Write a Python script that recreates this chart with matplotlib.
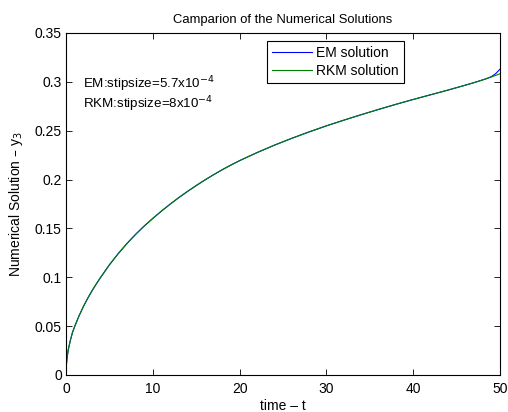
import matplotlib
matplotlib.use("Agg")
import matplotlib.pyplot as plt

plt.rcParams['font.family'] = ['Liberation Sans', 'DejaVu Sans']

t = [0, 0.03, 0.1, 0.25, 0.5, 0.75, 1, 1.5, 2, 2.5, 3, 3.5, 4, 5, 6, 7, 8, 9,
     10, 11, 12, 13, 14, 15, 16, 17, 18, 19, 20, 22, 24, 26, 28, 30, 32, 34,
     36, 38, 40, 42, 44, 46, 47, 48, 48.5, 49, 49.5, 50]
y_rkm = [0, 0.009, 0.016, 0.0255, 0.0355, 0.0437, 0.0497, 0.0605, 0.0700,
         0.0785, 0.0862, 0.0933, 0.1000, 0.1127, 0.1240, 0.1343, 0.1437,
         0.1523, 0.1602, 0.1677, 0.1748, 0.1815, 0.1878, 0.1938, 0.1995,
         0.2049, 0.2100, 0.2148, 0.2193, 0.2275, 0.2351, 0.2421, 0.2487,
         0.2549, 0.2607, 0.2663, 0.2717, 0.2769, 0.2819, 0.2867, 0.2915,
         0.2965, 0.2991, 0.3019, 0.3034, 0.3049, 0.3065, 0.3082]
y_em = [0, 0.009, 0.016, 0.0255, 0.0355, 0.0437, 0.0497, 0.0605, 0.0700,
        0.0785, 0.0862, 0.0933, 0.1000, 0.1127, 0.1240, 0.1343, 0.1437,
        0.1523, 0.1602, 0.1677, 0.1748, 0.1815, 0.1878, 0.1938, 0.1995,
        0.2049, 0.2100, 0.2148, 0.2193, 0.2275, 0.2351, 0.2421, 0.2487,
        0.2549, 0.2607, 0.2663, 0.2717, 0.2769, 0.2819, 0.2867, 0.2915,
        0.2965, 0.2991, 0.3019, 0.3034, 0.3052, 0.3082, 0.3128]

xticks = [0, 10, 20, 30, 40, 50]
yticks = [0, 0.05, 0.1, 0.15, 0.2, 0.25, 0.3, 0.35]
ytick_labels = ['0', '0.05', '0.1', '0.15', '0.2', '0.25', '0.3', '0.35']

fig = plt.figure(figsize=(5.08, 4.12), dpi=100)
ax = fig.add_axes([0.130, 0.090, 0.854, 0.830])

ax.plot(t, y_em, color=(0, 0, 1), lw=0.8, label='EM solution')
ax.plot(t, y_rkm, color=(0, 0.5, 0), lw=0.8, label='RKM solution')

ax.set_xlim(0, 50)
ax.set_ylim(0, 0.35)
ax.set_xticks(xticks)
ax.set_xticklabels([str(v) for v in xticks])
ax.set_yticks(yticks)
ax.set_yticklabels(ytick_labels)
ax.tick_params(direction='in', length=4, width=0.6, top=True, right=True,
               labelsize=10, colors='black')
ax.tick_params(axis='x', pad=5)
ax.tick_params(axis='y', pad=3)
for s in ax.spines.values():
    s.set_linewidth(0.8)

ax.set_title('Camparion of the Numerical Solutions', fontsize=9.4, pad=7)
ax.set_xlabel('time \u2013 t', fontsize=10, labelpad=2)
ax.set_ylabel('Numerical Solution \u2013 y$_3$', fontsize=10, labelpad=7)

ax.text(2.0, 0.2975, 'EM:stipsize=5.7x10$^{-4}$', fontsize=9.6, va='center', ha='left')
ax.text(2.0, 0.2775, 'RKM:stipsize=8x10$^{-4}$', fontsize=9.6, va='center', ha='left')

leg = ax.legend(loc='upper left', bbox_to_anchor=(0.463, 0.977), fontsize=10,
                frameon=True, fancybox=False, edgecolor='black', framealpha=1,
                handlelength=2.9, borderpad=0.35, labelspacing=0.3,
                handletextpad=0.3, borderaxespad=0)
leg.get_frame().set_linewidth(0.8)

fig.savefig('out.png', dpi=100)
